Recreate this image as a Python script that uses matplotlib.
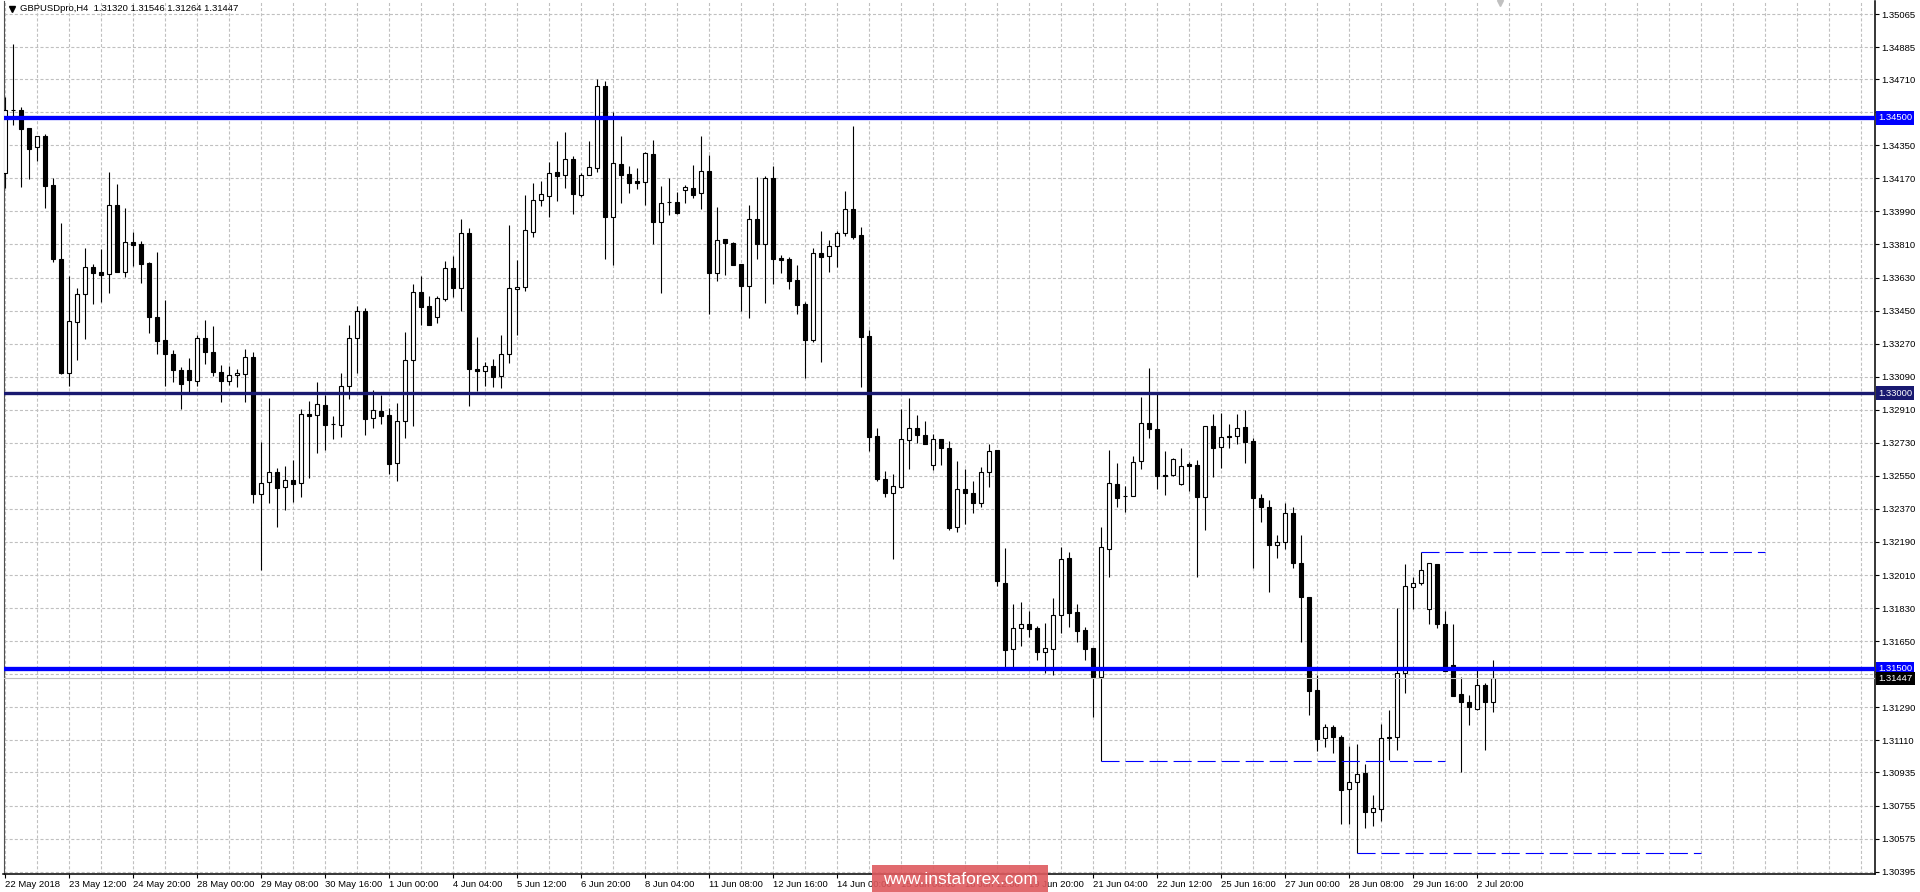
import matplotlib
matplotlib.use("Agg")
import matplotlib.pyplot as plt
from matplotlib.patches import Rectangle
from matplotlib.lines import Line2D
import numpy as np

# GBPUSD H4 candles (22 May - 2 Jul 2018)
opens = [
    1.34198, 1.34541, 1.34542, 1.34444, 1.34339, 1.34401, 1.34134, 1.33731, 1.33112, 1.33390,
    1.33539, 1.33686, 1.33660, 1.33648, 1.34025, 1.33658, 1.33824, 1.33813, 1.33711, 1.33415,
    1.33290, 1.33214, 1.33127, 1.33127, 1.33065, 1.33299, 1.33223, 1.33114, 1.33065, 1.33098,
    1.33103, 1.33196, 1.32450, 1.32515, 1.32570, 1.32488, 1.32526, 1.32510, 1.32886, 1.32880,
    1.32935, 1.32831, 1.32826, 1.33038, 1.33299, 1.33448, 1.32866, 1.32904, 1.32882, 1.32619,
    1.32847, 1.33180, 1.33550, 1.33474, 1.33414, 1.33512, 1.33680, 1.33572, 1.33870, 1.33132,
    1.33120, 1.33147, 1.33094, 1.33212, 1.33566, 1.33581, 1.33880, 1.34051, 1.34076, 1.34203,
    1.34187, 1.34276, 1.34082, 1.34187, 1.34229, 1.34672, 1.33962, 1.34249, 1.34194, 1.34154,
    1.34149, 1.34301, 1.33935, 1.34040, 1.34040, 1.34105, 1.34118, 1.34089, 1.34209, 1.33657,
    1.33839, 1.33819, 1.33704, 1.33586, 1.33947, 1.33815, 1.34170, 1.33737, 1.33729, 1.33615,
    1.33484, 1.33292, 1.33762, 1.33746, 1.33804, 1.33871, 1.34002, 1.33862, 1.33310, 1.32766,
    1.32533, 1.32459, 1.32492, 1.32744, 1.32809, 1.32771, 1.32608, 1.32749, 1.32700, 1.32270,
    1.32477, 1.32455, 1.32401, 1.32570, 1.32689, 1.31965, 1.31606, 1.31720, 1.31742, 1.31720,
    1.31593, 1.31606, 1.31795, 1.32103, 1.31809, 1.31711, 1.31613, 1.31457, 1.32154, 1.32506,
    1.32439, 1.32439, 1.32629, 1.32836, 1.32804, 1.32553, 1.32557, 1.32508, 1.32615, 1.32609,
    1.32437, 1.32820, 1.32706, 1.32767, 1.32766, 1.32815, 1.32740, 1.32432, 1.32380, 1.32171,
    1.32192, 1.32350, 1.32076, 1.31891, 1.31385, 1.31122, 1.31181, 1.31127, 1.30844, 1.30882,
    1.30931, 1.30722, 1.30735, 1.31127, 1.31127, 1.31476, 1.31947, 1.31966, 1.31824, 1.32071,
    1.31742, 1.31519, 1.31363, 1.31319, 1.31283, 1.31410, 1.31320,
]
highs = [
    1.34615, 1.34902, 1.34557, 1.34444, 1.34401, 1.34412, 1.34170, 1.33929, 1.33639, 1.33575,
    1.33791, 1.33704, 1.33787, 1.34205, 1.34139, 1.34007, 1.33878, 1.33829, 1.33717, 1.33769,
    1.33508, 1.33236, 1.33141, 1.33192, 1.33317, 1.33399, 1.33366, 1.33154, 1.33148, 1.33130,
    1.33239, 1.33225, 1.32733, 1.32974, 1.32592, 1.32604, 1.32637, 1.32913, 1.32958, 1.33062,
    1.32991, 1.32876, 1.33109, 1.33372, 1.33475, 1.33463, 1.33018, 1.32991, 1.32918, 1.32945,
    1.33334, 1.33595, 1.33640, 1.33530, 1.33530, 1.33720, 1.33750, 1.33950, 1.33900, 1.33305,
    1.33170, 1.33185, 1.33318, 1.33917, 1.33726, 1.34080, 1.34145, 1.34156, 1.34260, 1.34374,
    1.34423, 1.34292, 1.34202, 1.34376, 1.34712, 1.34701, 1.34534, 1.34401, 1.34238, 1.34229,
    1.34316, 1.34379, 1.34129, 1.34171, 1.34096, 1.34134, 1.34241, 1.34401, 1.34298, 1.34015,
    1.33839, 1.33824, 1.33704, 1.34026, 1.34176, 1.34183, 1.34238, 1.33753, 1.33740, 1.33697,
    1.33497, 1.33789, 1.33884, 1.33835, 1.33884, 1.34102, 1.34455, 1.33904, 1.33345, 1.32809,
    1.32577, 1.32559, 1.32916, 1.32974, 1.32882, 1.32849, 1.32776, 1.32749, 1.32740, 1.32631,
    1.32588, 1.32522, 1.32597, 1.32726, 1.32689, 1.32156, 1.31853, 1.31864, 1.31814, 1.31735,
    1.31751, 1.31885, 1.32165, 1.32136, 1.31851, 1.31726, 1.31613, 1.32272, 1.32691, 1.32619,
    1.32495, 1.32658, 1.32978, 1.33136, 1.32996, 1.32684, 1.32648, 1.32702, 1.32624, 1.32637,
    1.32820, 1.32885, 1.32893, 1.32833, 1.32887, 1.32909, 1.32755, 1.32450, 1.32420, 1.32230,
    1.32400, 1.32380, 1.32229, 1.31891, 1.31466, 1.31198, 1.31194, 1.31140, 1.31080, 1.31089,
    1.30982, 1.30811, 1.31200, 1.31276, 1.31831, 1.32071, 1.32002, 1.32133, 1.32074, 1.32071,
    1.31815, 1.31742, 1.31457, 1.31358, 1.31494, 1.31421, 1.31546,
]
lows = [
    1.34116, 1.34461, 1.34125, 1.34169, 1.34267, 1.34011, 1.33717, 1.33107, 1.33040, 1.33181,
    1.33297, 1.33486, 1.33497, 1.33544, 1.33662, 1.33631, 1.33693, 1.33602, 1.33326, 1.33212,
    1.33040, 1.33063, 1.32914, 1.33009, 1.33040, 1.33161, 1.33096, 1.32954, 1.33047, 1.33036,
    1.32954, 1.32401, 1.32038, 1.32401, 1.32274, 1.32366, 1.32410, 1.32437, 1.32541, 1.32673,
    1.32691, 1.32751, 1.32764, 1.32967, 1.33112, 1.32771, 1.32813, 1.32835, 1.32561, 1.32524,
    1.32759, 1.32824, 1.33372, 1.33374, 1.33385, 1.33504, 1.33523, 1.33450, 1.32933, 1.33014,
    1.33040, 1.33036, 1.33027, 1.33167, 1.33318, 1.33559, 1.33853, 1.34022, 1.33962, 1.34049,
    1.34120, 1.33975, 1.34071, 1.34187, 1.34207, 1.33731, 1.33701, 1.34038, 1.34093, 1.34111,
    1.34025, 1.33811, 1.33545, 1.33969, 1.33976, 1.34038, 1.34065, 1.34006, 1.33434, 1.33613,
    1.33644, 1.33701, 1.33450, 1.33408, 1.33731, 1.33490, 1.33595, 1.33657, 1.33570, 1.33430,
    1.33085, 1.33281, 1.33172, 1.33662, 1.33690, 1.33856, 1.33838, 1.33036, 1.32688, 1.32524,
    1.32437, 1.32100, 1.32482, 1.32586, 1.32728, 1.32722, 1.32582, 1.32608, 1.32258, 1.32247,
    1.32288, 1.32346, 1.32379, 1.32492, 1.31950, 1.31511, 1.31511, 1.31626, 1.31675, 1.31548,
    1.31479, 1.31468, 1.31693, 1.31729, 1.31647, 1.31548, 1.31239, 1.31000, 1.31999, 1.32383,
    1.32355, 1.32439, 1.32590, 1.32758, 1.32481, 1.32448, 1.32550, 1.32503, 1.32468, 1.31997,
    1.32256, 1.32546, 1.32595, 1.32704, 1.32722, 1.32619, 1.32050, 1.32300, 1.31920, 1.32105,
    1.32151, 1.32047, 1.31643, 1.31249, 1.31053, 1.31076, 1.31040, 1.30652, 1.30652, 1.30499,
    1.30635, 1.30646, 1.30673, 1.31004, 1.31058, 1.31370, 1.31824, 1.31957, 1.31744, 1.31724,
    1.31485, 1.31349, 1.30940, 1.31194, 1.31276, 1.31057, 1.31264,
]
closes = [
    1.34542, 1.34541, 1.34441, 1.34332, 1.34401, 1.34130, 1.33731, 1.33112, 1.33393, 1.33539,
    1.33686, 1.33657, 1.33646, 1.34025, 1.33662, 1.33822, 1.33809, 1.33706, 1.33413, 1.33286,
    1.33212, 1.33129, 1.33049, 1.33070, 1.33299, 1.33223, 1.33114, 1.33065, 1.33098, 1.33110,
    1.33196, 1.32450, 1.32510, 1.32570, 1.32486, 1.32526, 1.32508, 1.32886, 1.32878, 1.32940,
    1.32829, 1.32831, 1.33038, 1.33299, 1.33446, 1.32862, 1.32907, 1.32878, 1.32617, 1.32847,
    1.33180, 1.33553, 1.33472, 1.33374, 1.33517, 1.33680, 1.33572, 1.33870, 1.33134, 1.33120,
    1.33147, 1.33091, 1.33212, 1.33572, 1.33581, 1.33888, 1.34051, 1.34084, 1.34198, 1.34185,
    1.34276, 1.34087, 1.34187, 1.34231, 1.34672, 1.33962, 1.34252, 1.34191, 1.34143, 1.34147,
    1.34307, 1.33935, 1.34038, 1.34040, 1.33980, 1.34122, 1.34082, 1.34209, 1.33657, 1.33833,
    1.33817, 1.33701, 1.33586, 1.33947, 1.33815, 1.34170, 1.33733, 1.33728, 1.33613, 1.33483,
    1.33292, 1.33762, 1.33744, 1.33802, 1.33871, 1.34002, 1.33853, 1.33308, 1.32764, 1.32535,
    1.32459, 1.32495, 1.32749, 1.32809, 1.32771, 1.32722, 1.32749, 1.32700, 1.32268, 1.32477,
    1.32455, 1.32401, 1.32570, 1.32684, 1.31975, 1.31602, 1.31720, 1.31742, 1.31718, 1.31593,
    1.31611, 1.31791, 1.32098, 1.31805, 1.31707, 1.31609, 1.31457, 1.32161, 1.32510, 1.32432,
    1.32439, 1.32624, 1.32836, 1.32804, 1.32550, 1.32548, 1.32640, 1.32602, 1.32606, 1.32437,
    1.32820, 1.32704, 1.32760, 1.32760, 1.32809, 1.32737, 1.32432, 1.32380, 1.32171, 1.32192,
    1.32350, 1.32078, 1.31888, 1.31381, 1.31118, 1.31181, 1.31127, 1.30837, 1.30882, 1.30926,
    1.30722, 1.30740, 1.31122, 1.31120, 1.31476, 1.31951, 1.31966, 1.32036, 1.32074, 1.31741,
    1.31485, 1.31354, 1.31316, 1.31294, 1.31410, 1.31321, 1.31447,
]

# time axis labels, one every 8 bars
date_labels = [
    "22 May 2018", "23 May 12:00", "24 May 20:00", "28 May 00:00", "29 May 08:00",
    "30 May 16:00", "1 Jun 00:00", "4 Jun 04:00", "5 Jun 12:00", "6 Jun 20:00",
    "8 Jun 04:00", "11 Jun 08:00", "12 Jun 16:00", "14 Jun 00:00", "15 Jun 08:00",
    "18 Jun 12:00", "19 Jun 20:00", "21 Jun 04:00", "22 Jun 12:00", "25 Jun 16:00",
    "27 Jun 00:00", "28 Jun 08:00", "29 Jun 16:00", "2 Jul 20:00",
]

price_ticks = [
    1.35065, 1.34885, 1.34710, 1.34530, 1.34350, 1.34170, 1.33990, 1.33810, 1.33630,
    1.33450, 1.33270, 1.33090, 1.32910, 1.32730, 1.32550, 1.32370, 1.32190, 1.32010,
    1.31830, 1.31650, 1.31470, 1.31290, 1.31110, 1.30935, 1.30755, 1.30575, 1.30395,
]
hidden_ticks = [1.34530, 1.31470]   # covered by the level tags

# horizontal support / resistance levels
levels = [1.34500, 1.33000, 1.31500]
level_colors = ["#0000ff", "#191970", "#0000ff"]
level_widths = [3.1, 2.4, 3.1]

# dashed swing marks: start bar, end bar, price
dash_starts = [177, 137, 169]
dash_ends = [220, 180, 212]
dash_prices = [1.32133, 1.31000, 1.30499]

last_price = 1.31447
title = "GBPUSDpro,H4  1.31320 1.31546 1.31264 1.31447"

plt.rcParams["font.family"] = ["Liberation Sans", "DejaVu Sans"]
plt.rcParams["font.size"] = 6.8
plt.rcParams["lines.scale_dashes"] = False

W, H = 1920, 892
fig = plt.figure(figsize=(W / 100, H / 100), dpi=100)
ax_left, ax_right, ax_top, ax_bottom = 3.5, 1875, 1, 874
ax = fig.add_axes([ax_left / W, (H - ax_bottom) / H,
                   (ax_right - ax_left) / W, (ax_bottom - ax_top) / H])

x = np.arange(len(opens))
o = np.array(opens)
c = np.array(closes)

# wicks then bodies
ax.vlines(x, lows, highs, color="black", lw=0.8, zorder=2.5)
body_bottom = np.minimum(o, c)
body_height = np.abs(c - o)
fills = ["white" if cc >= oo else "black" for oo, cc in zip(o, c)]
ax.bar(x, body_height, width=0.5, bottom=body_bottom, color=fills,
       edgecolor="black", linewidth=0.8, zorder=3)

# level lines
for lv, col, lw in zip(levels, level_colors, level_widths):
    ax.axhline(lv, color=col, lw=lw, zorder=4)
ax.axhline(last_price, color="#c0c0c0", lw=0.8, zorder=3.5)

for s, e, p in zip(dash_starts, dash_ends, dash_prices):
    ax.plot([s, e], [p, p], color="#0000ff", lw=0.8, ls=(0, (13, 4.3)), zorder=4)

ax.set_xlim(-0.225, 233.7)
ax.set_ylim(1.30382, 1.35136)

# grid every 4 bars / every price tick
ax.set_xticks(np.arange(0, 234, 4), minor=True)
ax.set_xticks(np.arange(0, 8 * len(date_labels), 8))
ax.set_xticklabels(date_labels, ha="left")
ax.set_yticks(price_ticks)
ax.set_yticklabels(["" if t in hidden_ticks else f"{t:.5f}" for t in price_ticks])
ax.yaxis.tick_right()
ax.grid(True, which="both", color="#c0c0c0", lw=0.8, ls=(0, (2.2, 1.5)))
ax.set_axisbelow(True)
ax.tick_params(axis="x", which="major", length=3, width=0.8, pad=1.5, labelsize=6.8)
ax.tick_params(axis="x", which="minor", length=0)
ax.tick_params(axis="y", length=3, width=0.8, pad=1.5, labelsize=6.8)
for lab in ax.get_xticklabels():
    lab.set_x(lab.get_position()[0])

ax.spines["top"].set_visible(False)
ax.spines["left"].set_color("#505050")
ax.spines["right"].set_linewidth(1.1)
ax.spines["bottom"].set_linewidth(1.1)

# price tags on the right axis
tag_prices = levels + [last_price]
tag_colors = level_colors + ["black"]
for p, col in zip(tag_prices, tag_colors):
    ax.text(1.0016, p, f"{p:.5f}", transform=ax.get_yaxis_transform(),
            color="white", va="center", ha="left", fontsize=6.8, clip_on=False,
            bbox=dict(boxstyle="square,pad=0.25", fc=col, ec="none"), zorder=10)

# title and markers
fig.text(20 / W, 1 - 8.5 / H, title, fontsize=6.8, va="center", ha="left")
fig.add_artist(Line2D([12 / W], [1 - 9 / H], marker="v", ms=4, color="black", lw=0))
fig.add_artist(Line2D([1500 / W], [1 - 2.5 / H], marker="v", ms=4.5, color="#c0c0c0", lw=0))

# watermark
fig.add_artist(Rectangle((872 / W, 0), 176 / W, 27 / H, transform=fig.transFigure,
                         fc="#de5a5e", ec="none", alpha=0.9, zorder=20))
fig.text(960 / W, 12 / H, "www.instaforex.com", color="white", fontsize=12.5,
         ha="center", va="center", zorder=21)

fig.savefig("out.png", dpi=100, facecolor="white")
